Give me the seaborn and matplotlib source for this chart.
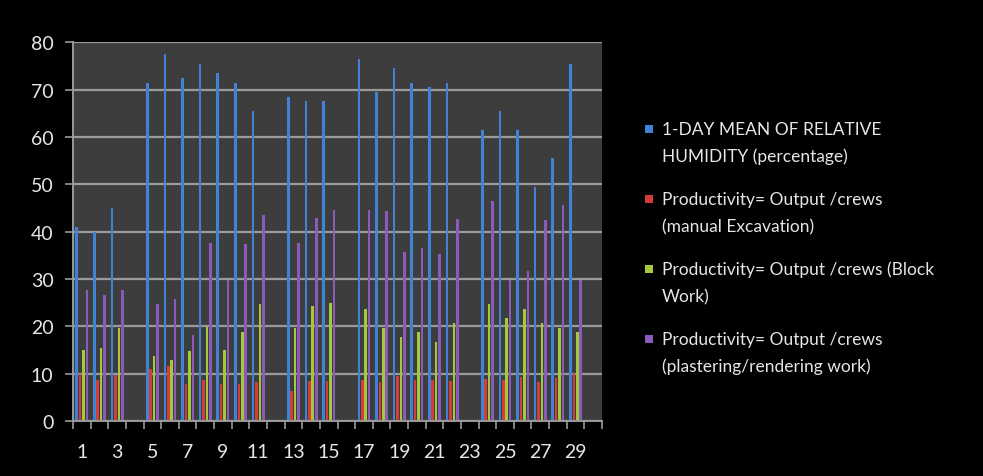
import numpy as np
import pandas as pd
import seaborn as sns
import matplotlib
matplotlib.use("Agg")
import matplotlib.pyplot as plt
from matplotlib.patches import Rectangle
from matplotlib.ticker import FixedLocator

# Days of the month (days 4, 12, 16, 23 and 30 have no records)
days = list(range(1, 31))
humidity = [41, 40, 45, np.nan, 71.5, 77.5, 72.5, 75.5, 73.5, 71.5,
            65.5, np.nan, 68.5, 67.5, 67.5, np.nan, 76.5, 69.5, 74.5, 71.5,
            70.5, 71.5, np.nan, 61.5, 65.5, 61.5, 49.5, 55.5, 75.5, np.nan]
excavation = [10, 8.7, 9.7, np.nan, 11, 11.6, 7.8, 8.7, 7.8, 7.8,
              8.2, np.nan, 6.3, 8.5, 8.5, np.nan, 8.7, 8.2, 9.5, 8.7,
              8.7, 8.5, np.nan, 8.8, 8.7, 9.2, 8.2, 9.0, 10.2, np.nan]
blockwork = [15, 15.5, 19.7, np.nan, 13.7, 12.8, 14.8, 19.8, 14.9, 18.7,
             24.7, np.nan, 19.7, 24.3, 24.9, np.nan, 23.7, 19.7, 17.8, 18.7,
             16.7, 20.8, np.nan, 24.7, 21.8, 23.7, 20.8, 19.7, 18.8, np.nan]
plastering = [27.7, 26.7, 27.7, np.nan, 24.7, 25.7, 18.1, 37.6, 29.7, 37.3,
              43.5, np.nan, 37.6, 42.8, 44.5, np.nan, 44.5, 44.3, 35.6, 36.6,
              35.3, 42.6, np.nan, 46.5, 29.7, 31.6, 42.5, 45.6, 29.7, np.nan]

series_names = ["1-DAY MEAN OF RELATIVE\nHUMIDITY (percentage)",
                "Productivity= Output /crews\n(manual Excavation)",
                "Productivity= Output /crews (Block\nWork)",
                "Productivity= Output /crews\n(plastering/rendering work)"]
series_values = [humidity, excavation, blockwork, plastering]
colors = ["#3f82d6", "#d63c38", "#a4c93a", "#8a5bbd"]
tick_labels = [str(d) for d in days if d % 2 == 1]

rows = []
for name, vals in zip(series_names, series_values):
    for d, v in zip(days, vals):
        if not np.isnan(v):
            rows.append({"day": d, "series": name, "value": v})
df = pd.DataFrame(rows)

sns.set_theme(style="dark")
plt.rcParams["font.family"] = ["Lato", "DejaVu Sans"]

W, H = 983, 477
fig = plt.figure(figsize=(W / 100, H / 100), dpi=100, facecolor="black")
ax = fig.add_axes([0.0743, 0.1153, 0.5381, 0.7939])
ax.set_facecolor("#3d3d3d")

sns.barplot(data=df, x="day", y="value", hue="series", order=days,
            hue_order=series_names, palette=colors, width=0.78, gap=0.25,
            saturation=1, linewidth=0, ax=ax, legend=False)

ax.set_xlim(-0.5, 29.5)
ax.set_ylim(0, 80)
ax.set_yticks(range(0, 81, 10))
ax.yaxis.grid(True, color="#9a9a9a", linewidth=1.6)
ax.xaxis.grid(False)
ax.set_axisbelow(True)
ax.set_xlabel("")
ax.set_ylabel("")

# labels on odd days, tick marks between days
ax.xaxis.set_major_locator(FixedLocator([d - 1 for d in days if d % 2 == 1]))
ax.set_xticklabels(tick_labels)
ax.xaxis.set_minor_locator(FixedLocator(np.arange(-0.5, 30, 1)))
ax.tick_params(axis="x", which="major", length=0, pad=16, labelsize=14,
               labelcolor="#e6e6e6")
ax.tick_params(axis="x", which="minor", length=6, width=1.2, color="#9a9a9a",
               direction="out", bottom=True)
ax.tick_params(axis="y", length=6, width=1.2, color="#9a9a9a", direction="out",
               left=True, pad=8, labelsize=14, labelcolor="#e6e6e6")

for side in ["top", "right"]:
    ax.spines[side].set_visible(False)
for side in ["left", "bottom"]:
    ax.spines[side].set_visible(True)
    ax.spines[side].set_color("#9a9a9a")
    ax.spines[side].set_linewidth(1.4)

# legend: square key beside the first line of each wrapped label
key_x, text_x = 645, 662
first_line_y = [130, 200, 270, 340]
line_step = 27
for name, c, y0 in zip(series_names, colors, first_line_y):
    fig.add_artist(Rectangle(((key_x) / W, 1 - (y0 + 4) / H), 8 / W, 8 / H,
                             transform=fig.transFigure, facecolor=c,
                             edgecolor="none"))
    for i, line in enumerate(name.split("\n")):
        fig.text(text_x / W, 1 - (y0 + i * line_step) / H, line,
                 ha="left", va="center", fontsize=12.5, color="#e6e6e6")

fig.savefig("out.png", dpi=100, facecolor="black")
